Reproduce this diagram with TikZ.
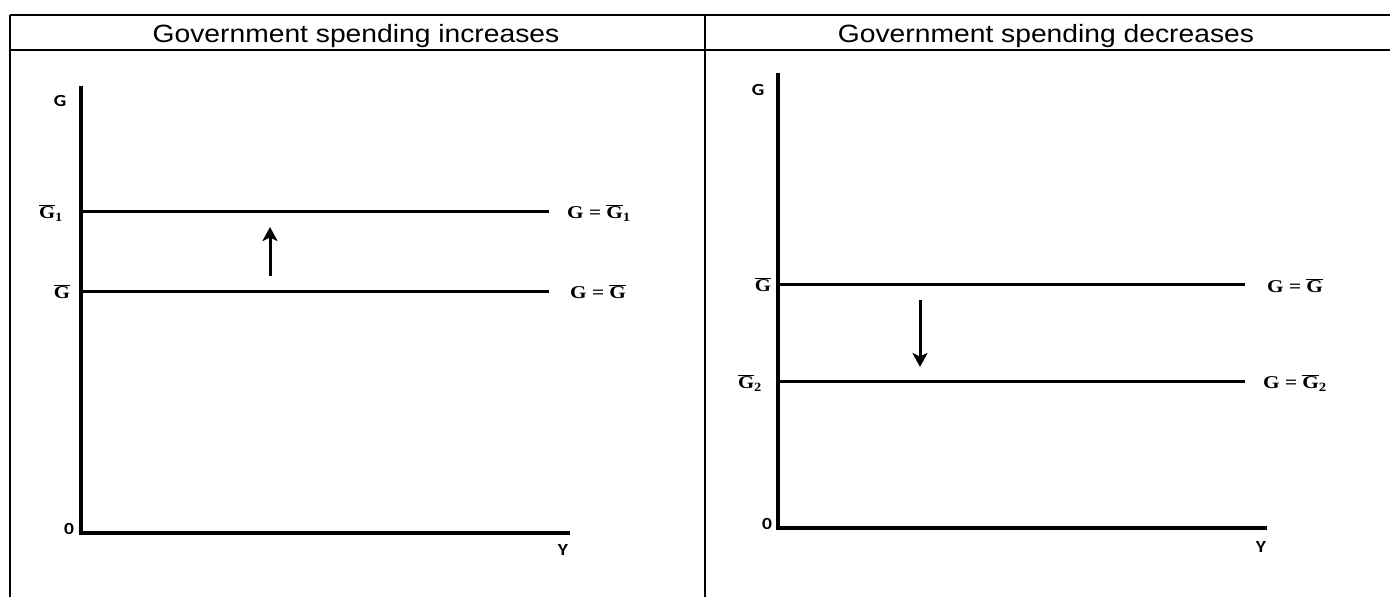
\documentclass[tikz,border=0pt]{standalone}
\usepackage{fontspec}
\setmainfont{Liberation Sans}
\newfontfamily\axisfont{Carlito}
\newfontfamily\lblfont{Liberation Serif}
\newcommand\gbar{$\overline{\mbox{G}}$}
\newcommand\eqs{\hspace{4.5pt}=\hspace{4.5pt}}
\newcommand\wide[2]{\scalebox{#1}[1]{#2}}
\usetikzlibrary{arrows.meta}
\tikzset{
  tbl/.style={line width=1.6pt},
  axisline/.style={line width=3.2pt, line cap=rect},
  levelline/.style={line width=3pt},
  movearrow/.style={line width=3pt, -{Stealth[length=14pt,width=15pt,inset=3.5pt]}},
  head/.style={font=\fontsize{25}{30}\selectfont, inner sep=0pt, anchor=base},
  axlbl/.style={font=\axisfont\bfseries\fontsize{17}{20}\selectfont, inner sep=0pt},
  mlbl/.style={font=\lblfont\bfseries\fontsize{18}{21}\selectfont, inner sep=0pt},
}
\begin{document}
\begin{tikzpicture}[x=1pt,y=-1pt]
\useasboundingbox (0,0) rectangle (1390,597);
% table
\draw[tbl] (10,15) -- (1395,15);
\draw[tbl] (10,50) -- (1395,50);
\draw[tbl] (10,15) -- (10,600);
\draw[tbl] (705,15) -- (705,600);
\node[head] (h1) at (356,42) {\wide{1.13}{Government spending increases}};
\node[head] (h2) at (1046,42) {\wide{1.13}{Government spending decreases}};
% ---------- left panel ----------
\coordinate (lo) at (81,533);
\coordinate (ltop) at (81,88);
\coordinate (lx) at (568,533);
\draw[axisline] (ltop) -- (lo) -- (lx);
\node[axlbl] (lG) at (60,101) {\wide{1.15}{G}};
\node[axlbl] (l0) at (69,529) {\wide{1.15}{0}};
\node[axlbl] (lY) at (563,550) {\wide{1.15}{Y}};
\coordinate (g1a) at (81,211);
\coordinate (g1b) at (549,211);
\coordinate (g0a) at (81,291);
\coordinate (g0b) at (549,291);
\draw[levelline] (g1a) -- (g1b);
\draw[levelline] (g0a) -- (g0b);
\node[mlbl] (lg1) at (51,213) {\wide{1.15}{\gbar\textsubscript{1}}};
\node[mlbl] (lg0) at (62,292) {\wide{1.15}{\gbar}};
\node[mlbl, anchor=west] (eq1) at (567,213) {\wide{1.18}{G\eqs\gbar\textsubscript{1}}};
\node[mlbl, anchor=west] (eq0) at (570,292) {\wide{1.18}{G\eqs\gbar}};
\coordinate (ua) at (270,276);
\coordinate (ub) at (270,227);
\draw[movearrow] (ua) -- (ub);
% ---------- right panel ----------
\coordinate (ro) at (778,528);
\coordinate (rtop) at (778,75);
\coordinate (rx) at (1265,528);
\draw[axisline] (rtop) -- (ro) -- (rx);
\node[axlbl] (rG) at (758,90) {\wide{1.15}{G}};
\node[axlbl] (r0) at (767,524) {\wide{1.15}{0}};
\node[axlbl] (rY) at (1261,547) {\wide{1.15}{Y}};
\coordinate (h0a) at (778,284);
\coordinate (h0b) at (1245,284);
\coordinate (h2a) at (778,381);
\coordinate (h2b) at (1245,381);
\draw[levelline] (h0a) -- (h0b);
\draw[levelline] (h2a) -- (h2b);
\node[mlbl] (rg0) at (763,285) {\wide{1.15}{\gbar}};
\node[mlbl] (rg2) at (750,383) {\wide{1.15}{\gbar\textsubscript{2}}};
\node[mlbl, anchor=west] (req0) at (1267,286) {\wide{1.18}{G\eqs\gbar}};
\node[mlbl, anchor=west] (req2) at (1263,383) {\wide{1.18}{G\eqs\gbar\textsubscript{2}}};
\coordinate (da) at (920,300);
\coordinate (db) at (920,367);
\draw[movearrow] (da) -- (db);
\end{tikzpicture}
\end{document}
